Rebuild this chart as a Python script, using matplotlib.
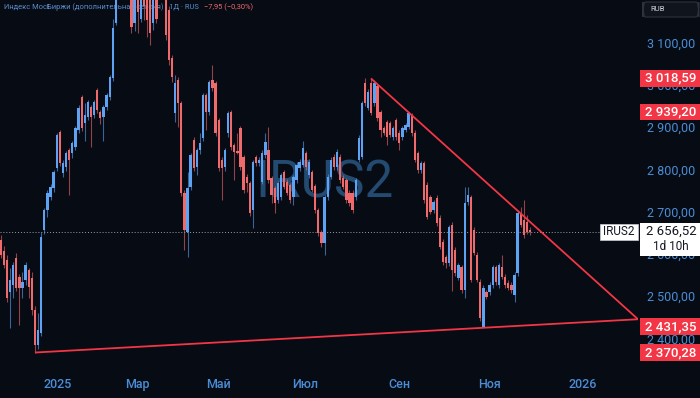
import matplotlib
matplotlib.use('Agg')
import matplotlib.pyplot as plt
from matplotlib.patches import Rectangle, FancyBboxPatch
import numpy as np

plt.rcParams['font.family'] = ['Roboto', 'DejaVu Sans']

# daily candles, IRUS2 (Dec 2024 .. Nov 2025)
opens = [2636, 2610, 2589, 2514, 2529, 2594, 2549, 2524, 2542, 2565, 2547, 2471, 2388, 2416, 2660,
         2707, 2738, 2759, 2807, 2892, 2795, 2809, 2849, 2842, 2856, 2897, 2975, 2913, 2927, 2951,
         2932, 2991, 2939, 2927, 2951, 2975, 3020, 3150, 3235, 3280, 3250, 3290, 3230, 3150, 3220,
         3160, 3230, 3220, 3210, 3150, 3230, 3215, 3260, 3225, 3180, 3067, 2937, 3015, 2960, 2748,
         2655, 2762, 2873, 2809, 2849, 2878, 2979, 2939, 3015, 3008, 2920, 2826, 2809, 2889, 2939,
         2861, 2847, 2901, 2833, 2786, 2771, 2707, 2833, 2819, 2774, 2837, 2849, 2783, 2759, 2731,
         2738, 2797, 2774, 2767, 2738, 2778, 2807, 2814, 2842, 2790, 2797, 2764, 2707, 2655, 2629,
         2738, 2786, 2833, 2809, 2833, 2783, 2778, 2748, 2748, 2738, 2826, 2833, 3008, 2949, 3008,
         2960, 3000, 2939, 2901, 2915, 2913, 2880, 2920, 2890, 2880, 2897, 2904, 2932, 2890, 2842,
         2802, 2818, 2767, 2738, 2707, 2736, 2689, 2632, 2596, 2582, 2672, 2613, 2547, 2572, 2518,
         2726, 2738, 2660, 2601, 2537, 2431, 2513, 2513, 2530, 2572, 2530, 2572, 2549, 2535, 2530,
         2506, 2558, 2700, 2684, 2680, 2660]
highs = [2648, 2622, 2600, 2570, 2585, 2605, 2555, 2560, 2585, 2570, 2560, 2480, 2464, 2655, 2712,
         2755, 2768, 2802, 2890, 2897, 2825, 2848, 2855, 2870, 2906, 2955, 2980, 2960, 2968, 2956,
         2968, 2995, 2945, 2956, 2984, 3027, 3160, 3260, 3290, 3300, 3310, 3300, 3240, 3230, 3235,
         3228, 3240, 3232, 3222, 3225, 3245, 3260, 3275, 3240, 3190, 3075, 3027, 3022, 2965, 2755,
         2797, 2842, 2880, 2854, 2890, 2984, 2985, 3015, 3050, 3013, 2925, 2832, 2854, 2942, 2945,
         2866, 2890, 2906, 2838, 2792, 2776, 2826, 2838, 2832, 2850, 2890, 2904, 2788, 2764, 2777,
         2796, 2803, 2780, 2772, 2791, 2820, 2827, 2870, 2848, 2827, 2803, 2770, 2713, 2660, 2744,
         2792, 2832, 2839, 2851, 2839, 2789, 2784, 2754, 2754, 2784, 2884, 2966, 3020, 2993, 3018.59,
         3014, 3006, 2945, 2907, 2921, 2919, 2907, 2926, 2896, 2907, 2914, 2939.2, 2938, 2896, 2848,
         2824, 2824, 2773, 2744, 2732, 2742, 2695, 2638, 2602, 2673, 2678, 2619, 2583, 2578, 2762,
         2762, 2744, 2666, 2607, 2543, 2529, 2519, 2536, 2578, 2578, 2583, 2600, 2555, 2541, 2536,
         2560, 2706, 2715, 2730, 2695, 2666]
lows = [2595, 2570, 2490, 2428, 2500, 2515, 2435, 2500, 2530, 2500, 2460, 2370.28, 2378, 2410, 2650,
        2690, 2730, 2750, 2800, 2812, 2785, 2800, 2743, 2830, 2850, 2890, 2895, 2870, 2920, 2856,
        2925, 2938, 2910, 2870, 2945, 2968, 3012, 3145, 3220, 3230, 3240, 3230, 3125, 3130, 3125,
        3152, 3157, 3117, 3098, 3133, 3150, 3208, 3222, 3110, 3050, 3010, 2915, 2904, 2740, 2613,
        2596, 2755, 2800, 2790, 2840, 2870, 2897, 2932, 2990, 2882, 2800, 2731, 2800, 2880, 2850,
        2778, 2840, 2803, 2748, 2750, 2694, 2665, 2812, 2812, 2768, 2830, 2772, 2725, 2700, 2725,
        2732, 2756, 2742, 2725, 2720, 2772, 2800, 2808, 2803, 2784, 2749, 2700, 2647, 2620, 2601,
        2732, 2780, 2803, 2803, 2772, 2756, 2725, 2718, 2700, 2732, 2820, 2827, 2954, 2943, 2931,
        2954, 2919, 2880, 2884, 2860, 2879, 2874, 2874, 2850, 2874, 2891, 2898, 2883, 2820, 2796,
        2796, 2725, 2685, 2697, 2701, 2670, 2614, 2578, 2570, 2576, 2515, 2552, 2541, 2512, 2500,
        2720, 2536, 2600, 2536, 2446, 2430, 2496, 2507, 2524, 2531, 2524, 2543, 2524, 2517, 2512,
        2490, 2552, 2666, 2642, 2650, 2648]
closes = [2600, 2577, 2499, 2542, 2577, 2524, 2524, 2537, 2577, 2525, 2471, 2388, 2424, 2644, 2707,
          2748, 2762, 2797, 2885, 2819, 2819, 2842, 2826, 2866, 2901, 2949, 2901, 2932, 2963, 2927,
          2963, 2944, 2925, 2951, 2979, 3022, 3138, 3230, 3270, 3250, 3290, 3240, 3140, 3210, 3176,
          3220, 3190, 3157, 3126, 3215, 3160, 3245, 3230, 3121, 3062, 3022, 3008, 2960, 2748, 2660,
          2759, 2837, 2807, 2849, 2866, 2979, 2939, 3010, 2996, 2889, 2807, 2807, 2849, 2937, 2856,
          2845, 2843, 2809, 2755, 2771, 2700, 2821, 2819, 2826, 2842, 2868, 2778, 2743, 2724, 2771,
          2790, 2762, 2748, 2731, 2785, 2814, 2821, 2854, 2809, 2821, 2755, 2707, 2653, 2629, 2738,
          2786, 2826, 2809, 2845, 2778, 2762, 2731, 2724, 2707, 2778, 2878, 2960, 2960, 2987, 2937,
          3008, 2925, 2897, 2890, 2880, 2885, 2901, 2880, 2866, 2901, 2908, 2937, 2889, 2826, 2802,
          2818, 2731, 2691, 2703, 2726, 2676, 2620, 2584, 2582, 2667, 2565, 2558, 2577, 2518, 2724,
          2743, 2542, 2606, 2542, 2452, 2523, 2502, 2530, 2572, 2537, 2577, 2549, 2530, 2523, 2518,
          2554, 2700, 2672, 2648, 2656, 2656.52]

last_price = 2656.52
month_pos = [18.4, 43.8, 69.8, 97.7, 127.9, 157.1, 187.0]
month_labels = ['2025', 'Мар', 'Май', 'Июл', 'Сен', 'Ноя', '2026']
price_ticks = [3100, 3000, 2900, 2800, 2700, 2600, 2500, 2400]
marked_prices = [3018.59, 2939.20, 2431.35, 2370.28]
# trend lines: (bar index, price)
support_x, support_y = [11, 204.66], [2370.28, 2449]
resist_x, resist_y = [118.9, 204.66], [3018.59, 2449]

bg = '#070b13'
up_c, dn_c = '#5ea3f3', '#ef6a6d'
axis_c = '#4b8dd6'
red = '#f23645'

def fmt(v):
    return f'{v:,.2f}'.replace(',', ' ').replace('.', ',')

W, H = 700, 398
fig = plt.figure(figsize=(7, 3.98), dpi=100, facecolor=bg)
ax = fig.add_axes([0, (H - 372) / H, 638 / W, 372 / H], facecolor=bg)
pax = fig.add_axes([638 / W, (H - 372) / H, 62 / W, 372 / H], facecolor=bg)

ylo, yhi = 2324.2, 3204.1
ax.set_xlim(-0.225, 204.66)
ax.set_ylim(ylo, yhi)
for s in ax.spines.values():
    s.set_visible(False)
ax.set_yticks([])
ax.set_xticks(month_pos)
ax.set_xticklabels(month_labels, color=axis_c, fontsize=9, fontweight='medium')
ax.tick_params(axis='x', length=0, pad=4.5)

# watermark and title
ax.text(104, 2771, 'IRUS2', color='#234a70', fontsize=37, ha='center', va='center', zorder=0.5)
title = ax.text(4 / 638, 1 - 7 / 372, 'Индекс МосБиржи (дополнительная сессия) · 1Д · RUS',
                transform=ax.transAxes, color='#5a8fce', fontsize=5.4, va='center', ha='left',
                zorder=0.4)
fig.canvas.draw()
tb = title.get_window_extent()
x_red = (tb.x1 + 5) / (638 / W * fig.bbox.width)
ax.text(x_red, 1 - 7 / 372, '−7,95 (−0,30%)', transform=ax.transAxes,
        color=dn_c, fontsize=5.4, va='center', ha='left', zorder=0.4)

# candles
idx = np.arange(len(opens))
o, h, l, c = map(np.array, (opens, highs, lows, closes))
cols = np.where(c >= o, up_c, dn_c)
ax.vlines(idx, l, h, colors=cols, lw=0.8, alpha=0.6, zorder=2)
body = np.maximum(np.abs(c - o), 2.4)
ax.bar(idx, body, bottom=np.minimum(o, c), width=0.74, color=cols, lw=0, zorder=3)

# last price line
ax.axhline(last_price, xmin=0, xmax=600 / 638, color='#9aa0aa', lw=0.7,
           ls=(0, (1, 2)), zorder=1)

# trend lines
ax.plot(support_x, support_y, color=red, lw=1.3, zorder=4, solid_capstyle='butt')
ax.plot(resist_x, resist_y, color=red, lw=1.3, zorder=4, solid_capstyle='butt')

# symbol label box
ax.add_patch(Rectangle((192.5, 2636), 12.2, 39, facecolor='white', edgecolor='#c8ccd4',
                       lw=0.5, zorder=6, clip_on=False))
ax.text(198.6, 2655.5, 'IRUS2', color='#131722', fontsize=8.5, ha='center', va='center', zorder=7)

# price scale
pax.set_xlim(0, 1)
pax.set_ylim(ylo, yhi)
pax.axis('off')
for v in price_ticks:
    pax.text(0.53, v, fmt(v), color=axis_c, fontsize=9, ha='center', va='center', zorder=2)
for v in marked_prices:
    pax.add_patch(Rectangle((0.03, v - 20), 0.97, 40, facecolor=red, lw=0, zorder=3))
    pax.text(0.53, v, fmt(v), color='white', fontsize=9.5, fontweight='medium',
             ha='center', va='center', zorder=4)
pax.add_patch(Rectangle((0.03, 2598), 0.97, 78, facecolor='white', lw=0, zorder=5))
pax.text(0.53, last_price, fmt(last_price), color='#131722', fontsize=9.5,
         ha='center', va='center', zorder=6)
pax.text(0.53, 2622, '1d 10h', color='#131722', fontsize=8.5, ha='center', va='center', zorder=6)

# currency box
pax.add_patch(FancyBboxPatch((0.08, 1 - 17 / 372), 0.9, 15 / 372, boxstyle='round,pad=0,rounding_size=0.04',
                             transform=pax.transAxes, facecolor='#10141c', edgecolor='#2e323c',
                             lw=0.8, zorder=5))
pax.text(0.2, 1 - 9 / 372, 'RUB', transform=pax.transAxes, color='#d1d4dc', fontsize=5.5,
         ha='left', va='center', zorder=6)

fig.savefig('out.png', dpi=100, facecolor=bg)
